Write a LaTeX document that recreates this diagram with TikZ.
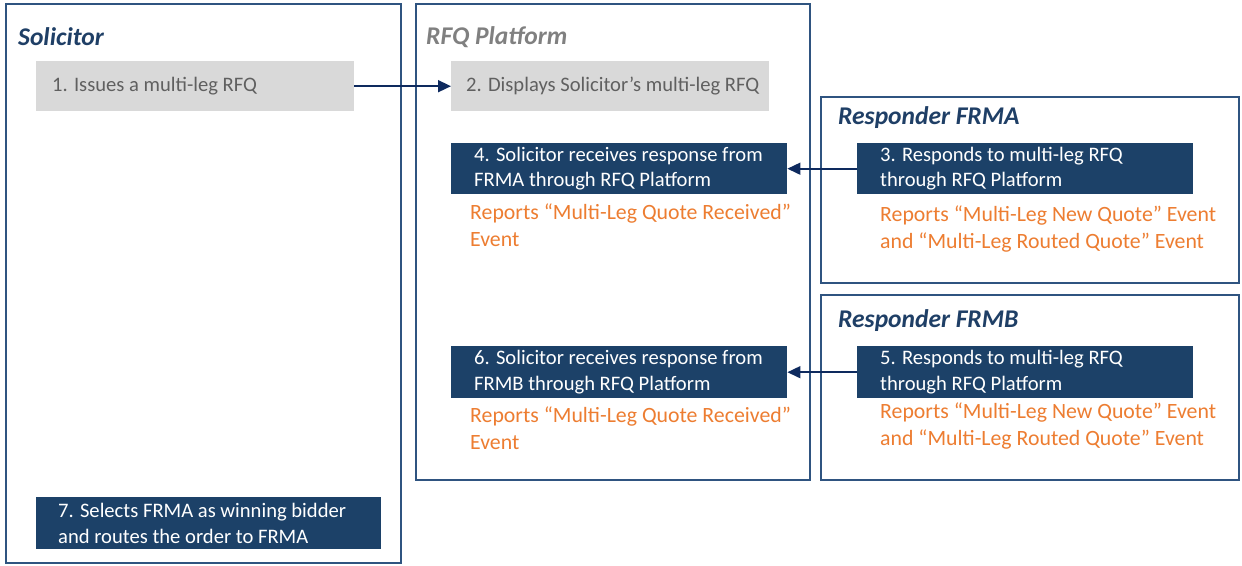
\documentclass[tikz,border=0pt]{standalone}
\usepackage{fontspec}
\setmainfont{Carlito}
\usetikzlibrary{arrows.meta}
\definecolor{panel}{HTML}{2F5480}
\definecolor{navy}{HTML}{1C4168}
\definecolor{arrowc}{HTML}{0E2A5E}
\definecolor{grayfill}{HTML}{D9D9D9}
\definecolor{graytext}{HTML}{606060}
\definecolor{orangec}{HTML}{ED7D31}
\definecolor{titleblue}{HTML}{1F3F66}
\definecolor{titlegray}{HTML}{808080}
\tikzset{
  panelbox/.style={draw=panel, line width=2pt, fill=white},
  graybox/.style={fill=grayfill, draw=none, inner sep=0pt},
  bluebox/.style={fill=navy, draw=none, inner sep=0pt},
  txt/.style={anchor=west, align=left, inner sep=0pt, font=\fontsize{20.6}{25.5}\selectfont},
  wtxt/.style={txt, text=white},
  gtxt/.style={txt, text=graytext},
  otxt/.style={txt, text=orangec, font=\fontsize{21.8}{26.5}\selectfont},
  ttl/.style={anchor=west, inner sep=0pt, font=\fontsize{25.5}{28}\selectfont\bfseries\itshape},
  conn/.style={arrowc, line width=1.6pt, -{Triangle[length=13pt,width=12pt]}}
}
\begin{document}
\begin{tikzpicture}[x=1pt,y=-1pt]
\useasboundingbox (0,0) rectangle (1242,565);
% panels
\draw[panelbox] (6,4) rectangle (401,563);
\draw[panelbox] (416,4) rectangle (810,480);
\draw[panelbox] (821,97) rectangle (1239,283);
\draw[panelbox] (821,295) rectangle (1239,480);
% titles
\node[ttl, text=titleblue] (tsol) at (18,37) {Solicitor};
\node[ttl, text=titlegray] (trfq) at (426,37) {RFQ Platform};
\node[ttl, text=titleblue] (tfrma) at (838,118) {Responder FRMA};
\node[ttl, text=titleblue] (tfrmb) at (838,321) {Responder FRMB};
% step boxes
\node[graybox, anchor=north west, minimum width=318pt, minimum height=50pt] (b1) at (36,61) {};
\node[gtxt] (t1) at ([xshift=16pt]b1.west) {1. Issues a multi-leg RFQ};
\node[graybox, anchor=north west, minimum width=318pt, minimum height=50pt] (b2) at (451,61) {};
\node[gtxt] (t2) at ([xshift=15pt]b2.west) {2. Displays Solicitor’s multi-leg RFQ};
\node[bluebox, anchor=north west, minimum width=336pt, minimum height=51pt] (b4) at (451,143) {};
\node[wtxt] (t4) at ([xshift=23pt]b4.west) {4. Solicitor receives response from\\FRMA through RFQ Platform};
\node[otxt] (o4) at (470,225) {Reports “Multi-Leg Quote Received”\\Event};
\node[bluebox, anchor=north west, minimum width=336pt, minimum height=51pt] (b3) at (857,143) {};
\node[wtxt] (t3) at ([xshift=23pt]b3.west) {3. Responds to multi-leg RFQ\\through RFQ Platform};
\node[otxt] (o3) at (880,229) {Reports “Multi-Leg New Quote” Event\\and “Multi-Leg Routed Quote” Event};
\node[bluebox, anchor=north west, minimum width=336pt, minimum height=52pt] (b6) at (451,346) {};
\node[wtxt] (t6) at ([xshift=23pt]b6.west) {6. Solicitor receives response from\\FRMB through RFQ Platform};
\node[otxt] (o6) at (470,428) {Reports “Multi-Leg Quote Received”\\Event};
\node[bluebox, anchor=north west, minimum width=336pt, minimum height=52pt] (b5) at (857,346) {};
\node[wtxt] (t5) at ([xshift=23pt]b5.west) {5. Responds to multi-leg RFQ\\through RFQ Platform};
\node[otxt] (o5) at (880,426) {Reports “Multi-Leg New Quote” Event\\and “Multi-Leg Routed Quote” Event};
\node[bluebox, anchor=north west, minimum width=345pt, minimum height=52pt] (b7) at (36,497) {};
\node[wtxt] (t7) at ([xshift=22pt]b7.west) {7. Selects FRMA as winning bidder\\and routes the order to FRMA};
% connectors
\draw[conn] (b1.east) -- (b2.west);
\draw[conn] (b3.west) -- (b4.east);
\draw[conn] (b5.west) -- (b6.east);
\end{tikzpicture}
\end{document}
